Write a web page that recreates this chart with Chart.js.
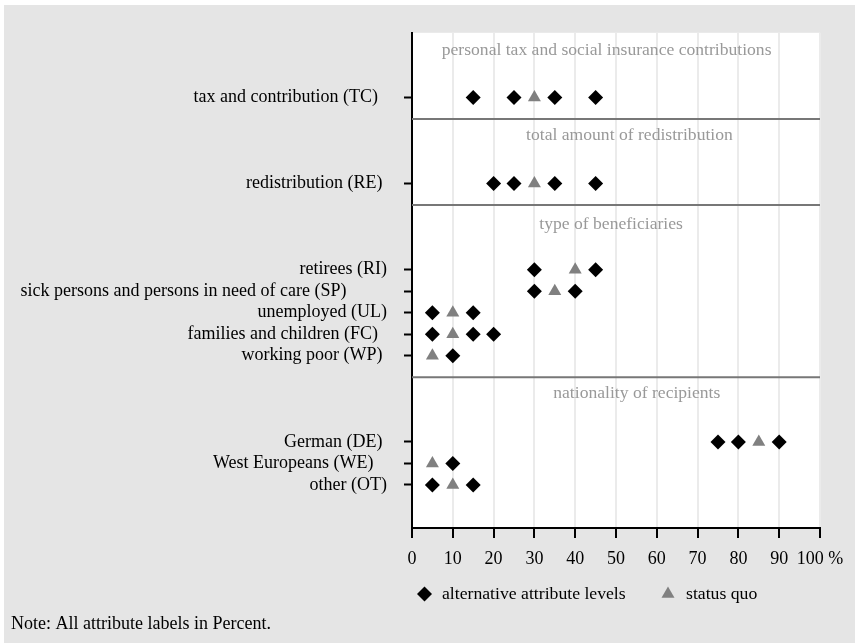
<!DOCTYPE html>
<html>
<head>
<meta charset="utf-8">
<script src="https://cdn.jsdelivr.net/npm/chart.js@4.4.0/dist/chart.umd.min.js"></script>
<style>
  html, body { margin: 0; padding: 0; background: #fff; }
  #wrap { position: absolute; left: 4px; top: 5px; width: 851px; height: 638px; }
</style>
</head>
<body>
<div id="wrap"><canvas id="chart"></canvas></div>
<script>
// attribute rows (labels keep the odd trailing spacing of the original figure)
const rowLabels = [
  "tax and contribution (TC)  ",
  "redistribution (RE) ",
  "retirees (RI)",
  "sick persons and persons in need of care (SP)         ",
  "unemployed (UL)",
  "families and children (FC)  ",
  "working poor (WP) ",
  "German (DE) ",
  "West Europeans (WE)   ",
  "other (OT)"
];
const rowPos = [0, 4, 8, 9, 10, 11, 12, 16, 17, 18];

// attribute levels in percent
const altLevels = [
  [15, 25, 35, 45],
  [20, 25, 35, 45],
  [30, 45],
  [30, 40],
  [5, 15],
  [5, 15, 20],
  [10],
  [75, 80, 90],
  [10],
  [5, 15]
];
const statusQuo = [30, 30, 40, 35, 10, 10, 5, 85, 5, 10];

const panelTitles = [
  "personal tax and social insurance contributions",
  "total amount of redistribution",
  "type of beneficiaries",
  "nationality of recipients"
];
const titleX = [47.7, 53.3, 48.8, 55.1];
const titleY = [-2.2, 1.75, 5.9, 13.75];
const panelBreaks = [1, 5, 13];

const xTicks = [0, 10, 20, 30, 40, 50, 60, 70, 80, 90, 100];
const noteText = "Note: All attribute labels in Percent.";

const FONT = "'Liberation Serif', 'Times New Roman', serif";

const altPoints = [];
altLevels.forEach((vals, i) => {
  vals.forEach(v => altPoints.push({ x: v, y: rowPos[i] }));
});
const sqPoints = statusQuo.map((v, i) => ({ x: v, y: rowPos[i] }));

const decorPlugin = {
  id: "decor",
  beforeDraw(chart) {
    const { ctx, chartArea: a } = chart;
    ctx.save();
    ctx.fillStyle = "#e5e5e5";
    ctx.fillRect(0, 0, chart.width, chart.height);
    ctx.fillStyle = "#ffffff";
    ctx.fillRect(a.left, a.top, a.right - a.left, a.bottom - a.top);
    ctx.restore();
  },
  beforeDatasetsDraw(chart) {
    const { ctx, chartArea: a, scales } = chart;
    ctx.save();
    ctx.strokeStyle = "#777777";
    ctx.lineWidth = 2;
    panelBreaks.forEach(b => {
      const y = scales.y.getPixelForValue(b);
      ctx.beginPath();
      ctx.moveTo(a.left, y);
      ctx.lineTo(a.right, y);
      ctx.stroke();
    });
    ctx.fillStyle = "#999999";
    ctx.font = "17.6px " + FONT;
    ctx.textAlign = "center";
    ctx.textBaseline = "middle";
    panelTitles.forEach((t, i) => {
      ctx.fillText(t, scales.x.getPixelForValue(titleX[i]), scales.y.getPixelForValue(titleY[i]));
    });
    ctx.restore();
  },
  afterDraw(chart) {
    const { ctx, chartArea: a } = chart;
    const ly = 589;
    ctx.save();
    ctx.font = "17.7px " + FONT;
    ctx.textBaseline = "middle";
    ctx.textAlign = "left";
    const ds = chart.data.datasets;
    const items = [
      { x: a.left + 12.5, tx: a.left + 30, d: ds[0] },
      { x: a.left + 256, tx: a.left + 274, d: ds[1] }
    ];
    items.forEach(it => {
      ctx.fillStyle = it.d.backgroundColor;
      Chart.helpers.drawPoint(ctx, { pointStyle: it.d.pointStyle, radius: 7.5, rotation: 0, borderWidth: 0 }, it.x, ly);
      ctx.fillStyle = "#000";
      ctx.fillText(it.d.label, it.tx, ly);
    });
    ctx.font = "18px " + FONT;
    ctx.fillText(noteText, 7, 619);
    ctx.restore();
  }
};

new Chart(document.getElementById("chart"), {
  type: "scatter",
  data: {
    datasets: [
      {
        label: "alternative attribute levels",
        data: altPoints,
        pointStyle: "rectRot",
        pointRadius: 7.5,
        backgroundColor: "#000000",
        borderWidth: 0
      },
      {
        label: "status quo",
        data: sqPoints,
        pointStyle: "triangle",
        pointRadius: 7.5,
        backgroundColor: "#808080",
        borderWidth: 0
      }
    ]
  },
  options: {
    responsive: true,
    maintainAspectRatio: false,
    animation: false,
    events: [],
    layout: { padding: { left: 0, top: 26, right: 35, bottom: 0 } },
    plugins: { legend: { display: false }, tooltip: { enabled: false } },
    scales: {
      x: {
        type: "linear",
        min: 0,
        max: 100,
        afterFit: s => { s.height = 115; },
        afterBuildTicks: s => { s.ticks = xTicks.map(v => ({ value: v })); },
        border: { display: true, color: "#000", width: 2 },
        grid: {
          color: c => (c.tick && c.tick.value === 0 ? "rgba(0,0,0,0)" : "#ebebeb"),
          lineWidth: 2,
          drawTicks: true,
          tickLength: 10,
          tickColor: "#000",
          tickWidth: 2
        },
        ticks: {
          autoSkip: false,
          maxRotation: 0,
          padding: 10,
          color: "#000",
          font: { family: FONT, size: 18 },
          callback: v => (v === 100 ? "100 %" : String(v))
        }
      },
      y: {
        type: "linear",
        reverse: true,
        min: -3,
        max: 20,
        afterFit: s => { s.width = 408; },
        afterBuildTicks: s => { s.ticks = rowPos.map(v => ({ value: v })); },
        border: { display: true, color: "#000", width: 2 },
        grid: {
          drawOnChartArea: false,
          drawTicks: true,
          tickLength: 8,
          tickColor: "#000",
          tickWidth: 2
        },
        ticks: {
          autoSkip: false,
          padding: 17,
          color: "#000",
          font: { family: FONT, size: 18 },
          callback: v => rowLabels[rowPos.indexOf(v)]
        }
      }
    }
  },
  plugins: [decorPlugin]
});
</script>
</body>
</html>
